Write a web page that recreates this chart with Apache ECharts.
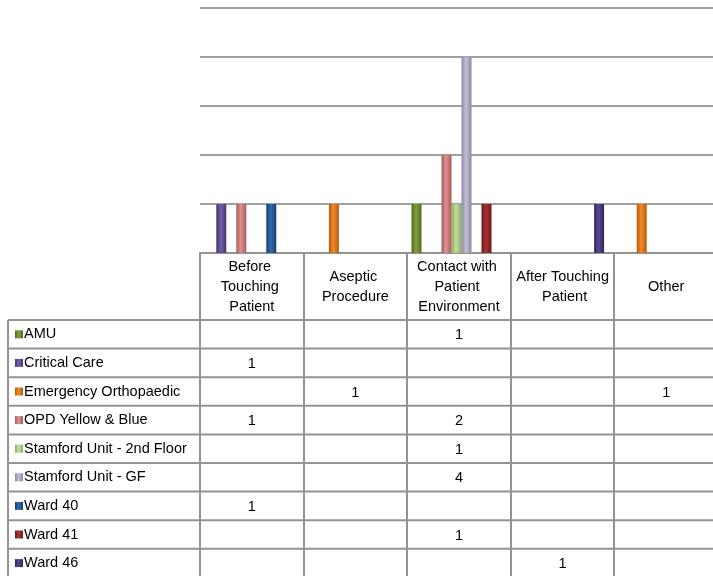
<!DOCTYPE html>
<html>
<head>
<meta charset="utf-8">
<script src="https://cdn.jsdelivr.net/npm/echarts@6/dist/echarts.min.js"></script>
<style>
  html, body { margin: 0; padding: 0; background: #ffffff; }
  #main { width: 713px; height: 576px; }
</style>
</head>
<body>
<div id="main"></div>
<script>
// ---- Data ----
var categories = ['Before Touching Patient', 'Aseptic Procedure', 'Contact with Patient Environment', 'After Touching Patient', 'Other'];
var seriesNames = ['AMU', 'Critical Care', 'Emergency Orthopaedic', 'OPD Yellow & Blue', 'Stamford Unit - 2nd Floor', 'Stamford Unit - GF', 'Ward 40', 'Ward 41', 'Ward 46'];
var amu              = [null, null, 1, null, null];
var criticalCare     = [1, null, null, null, null];
var emergencyOrtho   = [null, 1, null, null, 1];
var opdYellowBlue    = [1, null, 2, null, null];
var stamford2nd      = [null, null, 1, null, null];
var stamfordGF       = [null, null, 4, null, null];
var ward40           = [1, null, null, null, null];
var ward41           = [null, null, 1, null, null];
var ward46           = [null, null, null, 1, null];
var yTicks = [0, 1, 2, 3, 4, 5];

var seriesData = [amu, criticalCare, emergencyOrtho, opdYellowBlue, stamford2nd, stamfordGF, ward40, ward41, ward46];
var colors = [
  ['#4f6b1c', '#7fa23a'],
  ['#47356e', '#7460a6'],
  ['#b85a0c', '#f08a2a'],
  ['#a85a57', '#dc938f'],
  ['#8aab5e', '#c5dea0'],
  ['#8c88a3', '#c2bfd6'],
  ['#153f6e', '#2f6cae'],
  ['#6e1717', '#a83434'],
  ['#32265a', '#5a4890']
];

function grad(c) {
  return new echarts.graphic.LinearGradient(0, 0, 1, 0, [
    { offset: 0, color: c[0] },
    { offset: 0.45, color: c[1] },
    { offset: 1, color: c[0] }
  ]);
}

// ---- Layout ----
var gridLeft = 200, gridTop = 8, gridHeight = 245, gridWidth = 518;
var headerTop = gridTop + gridHeight;   // 253
var headerBottom = 320;
var rowH = 28.6;
var tableLeft = 8;
var bottom = 576;
var fontFamily = '"Liberation Sans", Arial, sans-serif';
var fontSize = 14.5;
var lineColor = '#939393';

var chart = echarts.init(document.getElementById('main'));

var series = seriesNames.map(function (name, i) {
  return {
    name: name,
    type: 'bar',
    data: seriesData[i],
    barWidth: 10,
    barGap: '0%',
    itemStyle: { color: grad(colors[i]) },
    animation: false
  };
});

chart.setOption({
  animation: false,
  backgroundColor: '#ffffff',
  grid: { left: gridLeft, top: gridTop, width: gridWidth, height: gridHeight, containLabel: false },
  xAxis: {
    type: 'category',
    data: categories,
    axisLine: { show: true, lineStyle: { color: lineColor, width: 2 } },
    axisTick: { show: false },
    axisLabel: { show: false },
    splitLine: { show: false }
  },
  yAxis: {
    type: 'value',
    min: yTicks[0],
    max: yTicks[yTicks.length - 1],
    interval: 1,
    axisLine: { show: false },
    axisTick: { show: false },
    axisLabel: { show: false },
    splitLine: { show: true, lineStyle: { color: '#a0a0a0', width: 2 } }
  },
  series: series
});

// ---- Data table (built from the same arrays) ----
var band = gridWidth / categories.length;
var g = [];
function line(x1, y1, x2, y2, w) {
  g.push({ type: 'line', silent: true, z: 10,
    shape: { x1: x1, y1: y1, x2: x2, y2: y2 },
    style: { stroke: lineColor, lineWidth: w || 2 } });
}
// vertical lines
for (var c = 0; c <= categories.length; c++) {
  var x = Math.round(gridLeft + c * band);
  line(x, headerTop, x, bottom, 2);
}
line(tableLeft, headerBottom, tableLeft, bottom, 2);
// horizontal lines
for (var r = 0; r <= seriesNames.length; r++) {
  var y = headerBottom + r * rowH;
  line(tableLeft, y, 713, y, 2);
}
// header text
categories.forEach(function (cat, c) {
  g.push({ type: 'text', silent: true, z: 11,
    x: gridLeft + (c + 0.5) * band,
    y: (headerTop + headerBottom) / 2,
    style: { text: cat, width: 98, overflow: 'break', lineHeight: 20,
      align: 'center', verticalAlign: 'middle',
      fill: '#000', font: fontSize + 'px ' + fontFamily } });
});
// rows
seriesNames.forEach(function (name, i) {
  var cy = headerBottom + (i + 0.5) * rowH;
  g.push({ type: 'rect', silent: true, z: 11,
    shape: { x: 15, y: cy - 4, width: 8, height: 8 },
    style: { fill: grad(colors[i]) } });
  g.push({ type: 'text', silent: true, z: 11, x: 24, y: cy,
    style: { text: name, align: 'left', verticalAlign: 'middle',
      fill: '#000', font: fontSize + 'px ' + fontFamily } });
  seriesData[i].forEach(function (v, c) {
    if (v === null || v === undefined) return;
    g.push({ type: 'text', silent: true, z: 11,
      x: gridLeft + (c + 0.5) * band, y: cy + 1,
      style: { text: String(v), align: 'center', verticalAlign: 'middle',
        fill: '#000', font: fontSize + 'px ' + fontFamily } });
  });
});
chart.setOption({ graphic: g });
</script>
</body>
</html>
